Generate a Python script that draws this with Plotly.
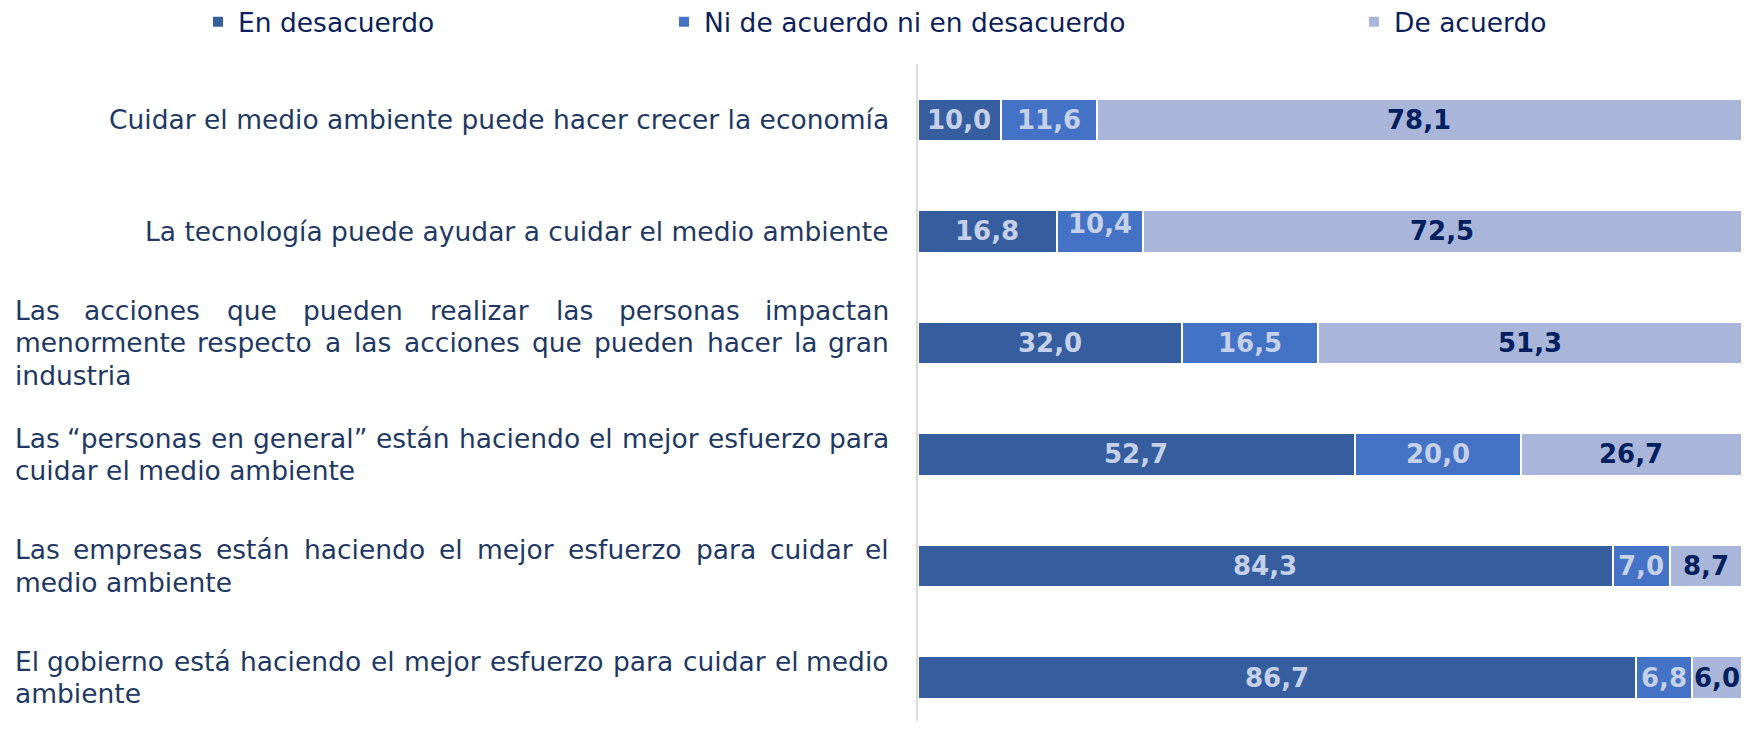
import plotly.graph_objects as go

categories = [
    "Cuidar el medio ambiente puede hacer crecer la economía",
    "La tecnología puede ayudar a cuidar el medio ambiente",
    "Las acciones que pueden realizar las personas impactan<br>menormente respecto a las acciones que pueden hacer la gran<br>industria",
    "Las “personas en general” están haciendo el mejor esfuerzo para<br>cuidar el medio ambiente",
    "Las empresas están haciendo el mejor esfuerzo para cuidar el<br>medio ambiente",
    "El gobierno está haciendo el mejor esfuerzo para cuidar el medio<br>ambiente",
]
series_names = ["En desacuerdo", "Ni de acuerdo ni en desacuerdo", "De acuerdo"]
en_desacuerdo = [10.0, 16.8, 32.0, 52.7, 84.3, 86.7]
ni_ni = [11.6, 10.4, 16.5, 20.0, 7.0, 6.8]
de_acuerdo = [78.1, 72.5, 51.3, 26.7, 8.7, 6.0]

series_values = [en_desacuerdo, ni_ni, de_acuerdo]
colors = ["#365E9E", "#4472C4", "#A9B6DA"]
label_colors = ["#C5D0EB", "#C5D0EB", "#002060"]
ids = list(range(len(categories)))

# page body has an 8px margin -> figure is 16px smaller than the window
W, H = 1734, 713
L, R, T, B = 910, 0, 56, 0
PW = W - L - R
FS = 26.5
VFS = 26
LINE_H = 32.4
TXT_LEFT, TXT_RIGHT = 5, 883  # label block edges in figure pixels

# approximate DejaVu Sans advance widths (em) used to justify label lines
_em = {
    "a": .613, "b": .635, "c": .550, "d": .635, "e": .615, "f": .352, "g": .635,
    "h": .634, "i": .278, "j": .278, "k": .579, "l": .278, "m": .974, "n": .634,
    "o": .612, "p": .635, "q": .635, "r": .411, "s": .521, "t": .392, "u": .634,
    "v": .592, "w": .818, "x": .592, "y": .592, "z": .525, "L": .557, "E": .632,
    "á": .613, "é": .615, "í": .278, "ó": .612, "“": .521, "”": .521,
}


def text_w(s):
    return sum(_em.get(ch, .6) for ch in s) * FS


def px_to_paper(px):
    return (px - L) / PW


font_cat = dict(family="DejaVu Sans", size=FS, color="#1F3864")

fig = go.Figure()
legend_keys = ["legend", "legend2", "legend3"]
for name, vals, col, lk in zip(series_names, series_values, colors, legend_keys):
    fig.add_trace(go.Bar(
        y=ids, x=vals, name=name, orientation="h",
        marker=dict(color=col, line=dict(color="white", width=2)),
        width=0.38, legend=lk, hoverinfo="x+name",
    ))

# value labels at normalized segment centers
label_shift = {(1, 1): 7}
for i in ids:
    tot = sum(s[i] for s in series_values)
    cum = 0.0
    for k, s in enumerate(series_values):
        v = s[i]
        mid = (cum + v / 2) / tot * 100
        cum += v
        fig.add_annotation(
            x=mid, y=i, xref="x", yref="y",
            text=f"{v:.1f}".replace(".", ","), showarrow=False,
            font=dict(family="DejaVu Sans", size=VFS, color=label_colors[k], weight="bold"),
            yshift=label_shift.get((i, k), 0),
        )

# category labels: single lines right-aligned, multi-line blocks justified
for i, c in enumerate(categories):
    lines = c.split("<br>")
    n = len(lines)
    for j, ln in enumerate(lines):
        ys = -(j - (n - 1) / 2) * LINE_H
        common = dict(y=i, xref="paper", yref="y", yanchor="middle", yshift=ys,
                      showarrow=False, font=font_cat)
        if n == 1:
            fig.add_annotation(x=px_to_paper(TXT_RIGHT), xanchor="right", text=ln, **common)
        elif j == n - 1:
            fig.add_annotation(x=px_to_paper(TXT_LEFT), xanchor="left", text=ln, **common)
        else:
            words = ln.split(" ")
            widths = [text_w(w) for w in words]
            gap = (TXT_RIGHT - TXT_LEFT - sum(widths)) / (len(words) - 1)
            xpos = TXT_LEFT
            for k, (w, ww) in enumerate(zip(words, widths)):
                if k == 0:
                    fig.add_annotation(x=px_to_paper(xpos), xanchor="left", text=w, **common)
                elif k == len(words) - 1:
                    fig.add_annotation(x=px_to_paper(TXT_RIGHT), xanchor="right", text=w, **common)
                else:
                    fig.add_annotation(x=px_to_paper(xpos + ww / 2), xanchor="center", text=w, **common)
                xpos += ww + gap

leg_font = dict(family="DejaVu Sans", size=FS, color="#0E1F5B")
leg_x = [190, 656, 1346]
layout_legends = {}
for lk, px in zip(legend_keys, leg_x):
    layout_legends[lk] = dict(
        x=px / W, xref="container", xanchor="left",
        y=1 - 14 / H, yref="container", yanchor="middle",
        font=leg_font, bgcolor="rgba(0,0,0,0)", orientation="h",
    )

fig.update_layout(
    width=W, height=H,
    margin=dict(l=L, r=R, t=T, b=B, pad=0, autoexpand=False),
    barmode="stack", barnorm="percent",
    plot_bgcolor="white", paper_bgcolor="white",
    showlegend=True,
    xaxis=dict(range=[0, 100], showgrid=False, zeroline=False, showticklabels=False, fixedrange=True),
    yaxis=dict(range=[5.39, -0.5], showgrid=False, zeroline=False, showticklabels=False,
               showline=True, linecolor="#D9D9D9", linewidth=2, fixedrange=True),
    **layout_legends,
)

fig.write_html("out.html")
